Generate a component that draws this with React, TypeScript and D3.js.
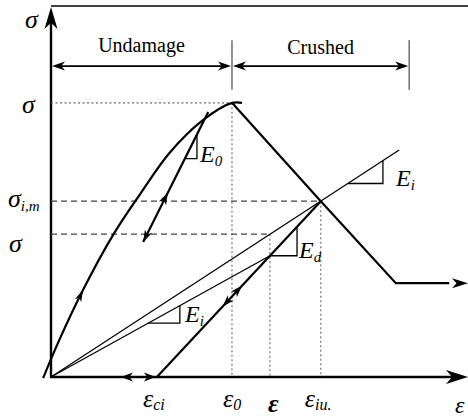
import * as d3 from 'd3';

const W = 468;
const H = 417;

// schematic stress-strain values (arbitrary units, 0..10 on both axes)
const envelopeStrain = [-0.19, 0.2, 0.77, 1.49, 2.15, 2.85, 3.65, 4.34, 4.58];
const envelopeStress = [-0.03, 1.0, 2.35, 3.83, 4.95, 6.05, 6.93, 7.39, 7.39];
const softeningStrain = [4.34, 6.47, 8.27, 9.55];
const softeningStress = [7.39, 4.74, 2.53, 2.53];

const eci = 2.54; // plastic strain
const e0 = 4.34; // peak strain
const ed = 5.25; // current strain
const eiu = 6.47; // unloading strain
const sigPeak = 7.39;
const sigIm = 4.74;
const sigD = 3.85;

const strainLabels = [
  { v: eci, main: 'ε', sub: 'ci' },
  { v: e0, main: 'ε', sub: '0' },
  { v: ed, main: 'ε', sub: '' },
  { v: eiu, main: 'ε', sub: 'iu.' },
];
const stressLabels = [
  { v: sigPeak, sub: '' },
  { v: sigIm, sub: 'i,m' },
  { v: sigD, sub: '' },
];
const phases = [
  { name: 'Undamage', from: 0, to: e0 },
  { name: 'Crushed', from: e0, to: 8.59 },
];

const x = d3.scaleLinear().domain([0, 10]).range([51, 468]);
const y = d3.scaleLinear().domain([0, 10]).range([377, 6]);

const serif = '"Liberation Serif", "Times New Roman", Times, serif';

type P = [number, number];

function head(tip: P, from: P, L: number, w: number) {
  const a = Math.atan2(tip[1] - from[1], tip[0] - from[0]);
  const c = Math.cos(a);
  const s = Math.sin(a);
  const pt = (u: number, v: number) => [tip[0] + u * c - v * s, tip[1] + u * s + v * c];
  const p1 = pt(-L, -w);
  const p2 = pt(-L * 0.72, 0);
  const p3 = pt(-L, w);
  return `M${tip[0]},${tip[1]}L${p1[0]},${p1[1]}L${p2[0]},${p2[1]}L${p3[0]},${p3[1]}Z`;
}

// slope triangle under a line through a-b between strains x1 and x2
function slopeTri(a: P, b: P, x1: number, x2: number) {
  const at = (v: number) => a[1] + ((b[1] - a[1]) * (v - a[0])) / (b[0] - a[0]);
  return `M${x(x1)},${y(at(x1))}L${x(x2)},${y(at(x1))}L${x(x2)},${y(at(x2))}`;
}

export default function App() {
  const line = d3.line<P>().x((d) => x(d[0])).y((d) => y(d[1]));
  const envelope = d3
    .line<P>()
    .x((d) => x(d[0]))
    .y((d) => y(d[1]))
    .curve(d3.curveCatmullRom.alpha(0.5))(envelopeStrain.map((v, i) => [v, envelopeStress[i]] as P));
  const softening = line(softeningStrain.map((v, i) => [v, softeningStress[i]] as P));

  const eiEnd = 8.35;
  const E0a: P = [3.77, 7.14];
  const E0b: P = [2.21, 3.64];
  const sigEd = (sigIm * (ed - eci)) / (eiu - eci);

  const px = (p: P): P => [x(p[0]), y(p[1])];
  const along = (a: P, b: P, t: number): P => [a[0] + (b[0] - a[0]) * t, a[1] + (b[1] - a[1]) * t];

  return (
    <svg width={W} height={H} style={{ position: 'absolute', left: 0, top: 0, background: '#fff', fontFamily: serif }}>
      {/* frame and axes */}
      <line x1={x(0)} x2={W} y1={y(10)} y2={y(10)} stroke="#000" strokeWidth={1.6} />
      <line x1={x(0)} x2={x(0)} y1={y(0) + 1} y2={y(9.7)} stroke="#000" strokeWidth={2.4} />
      <path d={head([x(0), 7], [x(0), 40], 22, 6.5)} fill="#000" />
      <line x1={x(0) - 1} x2={462} y1={y(0)} y2={y(0)} stroke="#000" strokeWidth={2.4} />
      <path d={head([468, y(0)], [400, y(0)], 22, 7)} fill="#000" />

      {/* phase spans */}
      {[e0, 8.59].map((v) => (
        <line key={v} x1={x(v)} x2={x(v)} y1={y(9.08)} y2={y(7.74)} stroke="#777" strokeWidth={1.6} />
      ))}
      {phases.map((p) => (
        <g key={p.name}>
          <line x1={x(p.from) + 4} x2={x(p.to) - 4} y1={y(8.38)} y2={y(8.38)} stroke="#000" strokeWidth={1.6} />
          <path d={head([x(p.from) + 1, y(8.38)], [x(p.to), y(8.38)], 13, 4.5)} fill="#000" />
          <path d={head([x(p.to) - 1, y(8.38)], [x(p.from), y(8.38)], 13, 4.5)} fill="#000" />
          <text x={(x(p.from) + x(p.to)) / 2} y={p.name === 'Crushed' ? 54 : 52} textAnchor="middle" fontSize={20}>
            {p.name}
          </text>
        </g>
      ))}

      {/* guides */}
      <g stroke="#666" strokeWidth={1.1} fill="none">
        <line x1={x(0)} x2={x(e0)} y1={y(sigPeak)} y2={y(sigPeak)} strokeDasharray="2,2.5" />
        <line x1={x(e0)} x2={x(e0)} y1={y(sigPeak)} y2={y(0)} strokeDasharray="2,2.5" />
        <line x1={x(0)} x2={x(eiu)} y1={y(sigIm)} y2={y(sigIm)} strokeDasharray="6,4" stroke="#444" />
        <line x1={x(eiu)} x2={x(eiu)} y1={y(sigIm)} y2={y(0)} strokeDasharray="2,2.5" />
        <line x1={x(0)} x2={x(ed)} y1={y(sigD)} y2={y(sigD)} strokeDasharray="6,4" stroke="#444" />
        <line x1={x(ed)} x2={x(ed)} y1={y(sigD)} y2={y(0)} strokeDasharray="2,2.5" />
      </g>

      {/* secant lines */}
      <g stroke="#000" strokeWidth={1.3} fill="none">
        <line x1={x(0)} y1={y(0)} x2={x(eiEnd)} y2={y((sigIm / eiu) * eiEnd)} />
        <line x1={x(0)} y1={y(0)} x2={x(ed)} y2={y(sigEd)} />
        <path d={slopeTri([0, 0], [eiu, sigIm], 7.12, 7.96)} />
        <path d={slopeTri([0, 0], [ed, sigEd], 2.33, 3.09)} />
        <path d={slopeTri([eci, 0], [eiu, sigIm], 5.25, 5.9)} />
        <path d={slopeTri(E0b, E0a, 3.21, 3.5)} />
      </g>

      {/* main curves */}
      <g stroke="#000" strokeWidth={2.2} fill="none">
        <path d={envelope ?? ''} />
        <path d={softening ?? ''} />
        <line x1={x(eci)} y1={y(0)} x2={x(eiu)} y2={y(sigIm)} />
        <line x1={x(E0a[0])} y1={y(E0a[1])} x2={x(E0b[0])} y2={y(E0b[1])} />
        <line x1={x(eci) - 36} x2={x(eci)} y1={y(0)} y2={y(0)} />
      </g>
      <path d={head([468, y(2.53)], [400, y(2.53)], 16, 5)} fill="#000" />

      {/* direction arrows */}
      <g fill="#000">
        <path d={head(px([0.77, 2.35]), px([0.2, 1.0]), 12, 3.5)} />
        <path d={head(px(along(E0b, E0a, 0.38)), px(E0b), 12, 4)} />
        <path d={head(px(E0b), px(E0a), 12, 4)} />
        <path d={head(px(along([eci, 0], [eiu, sigIm], 0.4)), px([eiu, sigIm]), 12, 4)} />
        <path d={head(px(along([eci, 0], [eiu, sigIm], 0.52)), px([eci, 0]), 12, 4)} />
        <path d={head([x(eci) - 36, y(0)], [x(eci), y(0)], 12, 4.5)} />
        <path d={head([x(eci) - 1, y(0)], [x(eci) - 40, y(0)], 12, 4.5)} />
      </g>

      {/* stress labels */}
      <text x={25} y={28} fontSize={26} fontStyle="italic">σ</text>
      {stressLabels.map((s, i) => (
        <text key={i} x={s.sub ? 8 : i === 0 ? 22 : 9} y={y(s.v) + (s.sub ? 6 : i === 0 ? 10 : 18)} fontSize={26} fontStyle="italic">
          σ
          {s.sub && (
            <tspan fontSize={15} dy={4}>
              {s.sub}
            </tspan>
          )}
        </text>
      ))}

      {/* strain labels */}
      {strainLabels.map((s, i) => (
        <text
          key={i}
          x={x(s.v) + [-14, -9, -2, -16][i]}
          y={s.sub ? 407 : 412}
          fontSize={26}
          fontStyle="italic"
          fontWeight={s.sub ? 'normal' : 'bold'}
        >
          {s.main}
          {s.sub && (
            <tspan fontSize={16} dy={3} fontWeight="normal">
              {s.sub}
            </tspan>
          )}
        </text>
      ))}
      <text x={455} y={413} fontSize={24} fontStyle="italic">ε</text>

      {/* modulus labels */}
      <g fontSize={24} fontStyle="italic">
        <text x={200} y={162}>
          E<tspan fontSize={15} dy={4}>0</tspan>
        </text>
        <text x={396} y={186}>
          E<tspan fontSize={15} dy={4}>i</tspan>
        </text>
        <text x={299} y={258}>
          E<tspan fontSize={15} dy={4}>d</tspan>
        </text>
        <text x={185} y={322}>
          E<tspan fontSize={15} dy={4}>i</tspan>
        </text>
      </g>
    </svg>
  );
}
